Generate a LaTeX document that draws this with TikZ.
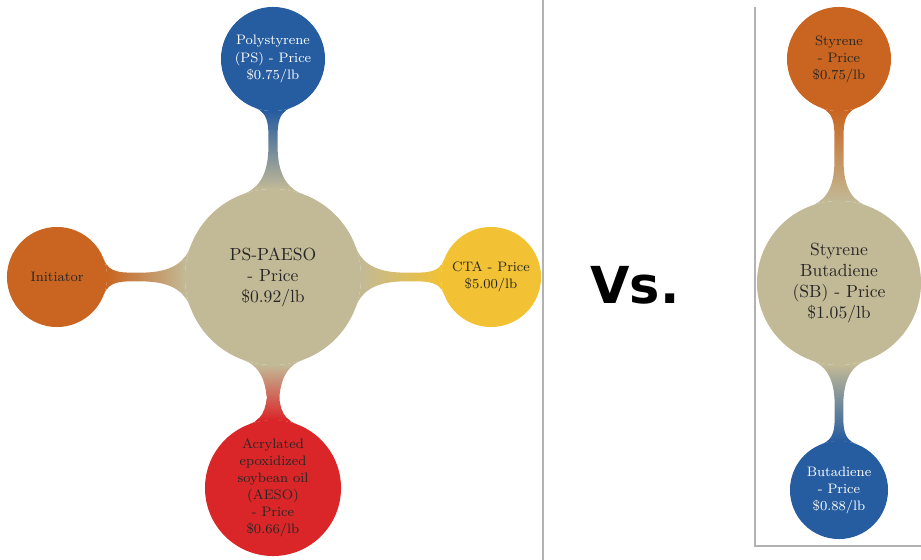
\documentclass[tikz,border=0pt]{standalone}
\usepackage{fontspec}
\newfontfamily\vsfont{DejaVu Sans}
\usetikzlibrary{
  mindmap,      % Style "circle connection bar switch color"
  positioning,  % Function "of" (e.g. [above=of x])
  backgrounds,  % Predefined layer named "background"
}
\definecolor{mytan}{RGB}{194,185,150}
\definecolor{myblue}{RGB}{38,92,160}
\definecolor{myorange}{RGB}{201,101,32}
\definecolor{myyellow}{RGB}{242,194,52}
\definecolor{myred}{RGB}{218,38,40}
\def\mysmallfont{\fontsize{7.8}{9.7}\selectfont}
\def\mybigfont{\fontsize{10}{12}\selectfont}
\tikzset{
  x=0.02cm,
  y=-0.02cm,
  my concept/.style={
    circle,
    inner sep=0pt,
    line width=0.6pt,
    align=center,
    font=\mysmallfont,
    text=black!85
  },
  my fill/.style={
    fill=#1,
    draw=#1
  },
  my root/.style={
    my concept,
    my fill=mytan,
    font=\mybigfont
  },
  my link/.style={
    line width=6pt
  },
  sep line/.style={
    draw=black!30,
    line width=0.6pt
  }
}
\begin{document}
\begin{tikzpicture}
\useasboundingbox (0,0) rectangle (921,560);
% separators
\draw[sep line] (543,0) -- (543,560);
\draw[sep line] (755,7) -- (755,546) -- (921,546);
% left map
\node[my root,minimum size=3.5cm] (paeso) at (273,277)
  {PS-PAESO\\- Price\\\$0.92/lb};
\node[my concept,my fill=myblue,text=white,minimum size=2.06cm]
  (ps) [above=1.56cm of paeso] {Polystyrene\\(PS) - Price\\\$0.75/lb};
\node[my concept,my fill=myorange,minimum size=1.98cm]
  (init) [left=1.56cm of paeso] {Initiator};
\node[my concept,my fill=myyellow,minimum size=1.98cm]
  (cta) [right=1.6cm of paeso] {CTA - Price\\\$5.00/lb};
\node[my concept,my fill=myred,minimum size=2.7cm]
  (aeso) [below=1.1cm of paeso]
  {Acrylated\\epoxidized\\soybean oil\\(AESO)\\- Price\\\$0.66/lb};
% right map
\node[my root,minimum size=3.26cm] (sb) at (839,283)
  {Styrene\\Butadiene\\(SB) - Price\\\$1.05/lb};
\node[my concept,my fill=myorange,minimum size=2.06cm]
  (sty) [above=1.8cm of sb] {Styrene\\- Price\\\$0.75/lb};
\node[my concept,my fill=myblue,text=white,minimum size=1.94cm]
  (buta) [below=1.52cm of sb] {Butadiene\\- Price\\\$0.88/lb};
\begin{scope}[on background layer]
  \foreach \from/\to/\col in {paeso/ps/myblue, paeso/init/myorange,
      paeso/cta/myyellow, paeso/aeso/myred, sb/sty/myorange, sb/buta/myblue}
    \path[my link] (\from) to[circle connection bar switch color=from (mytan) to (\col)] (\to);
\end{scope}
\node[font=\vsfont\bfseries\fontsize{29}{34}\selectfont] (vs) at (635,285) {Vs.};
\end{tikzpicture}
\end{document}
